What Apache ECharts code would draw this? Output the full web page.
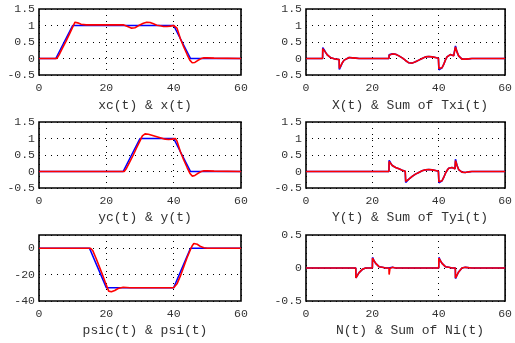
<!DOCTYPE html>
<html><head><meta charset="utf-8">
<script src="https://cdn.jsdelivr.net/npm/echarts@6/dist/echarts.min.js"></script>
<style>html,body{margin:0;padding:0;background:#fff}#c{width:515px;height:343px}</style>
</head><body><div id="c"></div>
<script>
// ---- Panel titles ----
const titles = ["xc(t) & x(t)", "X(t) & Sum of Txi(t)", "yc(t) & y(t)", "Y(t) & Sum of Tyi(t)", "psic(t) & psi(t)", "N(t) & Sum of Ni(t)"];
const xTicks = [0, 20, 40, 60];

// ---- Panel 1: xc (blue), x (red) ----
const xcT = [0, 5, 10, 40, 45, 60];
const xcV = [0, 0, 1, 1, 0, 0];
const xT = [0, 5.3, 6, 7, 8, 9, 10, 10.7, 11.5, 12.5, 14, 20, 25, 26.5, 27.5, 28.5, 29.5, 31, 32, 33, 34, 35, 36, 37, 38, 39, 40, 40.5, 41, 42, 43, 44, 44.8, 45.5, 46.3, 47, 48, 49, 50, 52, 60];
const xV = [0, 0, 0.12, 0.32, 0.52, 0.73, 0.95, 1.1, 1.08, 1.04, 1.02, 1.02, 1.02, 0.96, 0.92, 0.93, 0.99, 1.07, 1.1, 1.09, 1.05, 1.01, 0.99, 0.97, 0.97, 0.98, 1.0, 1.0, 0.92, 0.6, 0.35, 0.12, -0.05, -0.13, -0.12, -0.07, -0.01, 0.02, 0.02, 0.01, 0];

// ---- Panel 2: X(t) (blue), Sum of Txi (red) ----
const fxT = [0, 5, 5.05, 5.5, 6, 6.5, 7, 7.5, 8, 9, 10, 10.05, 10.5, 11, 11.5, 12, 13, 14, 15, 16, 25, 25.05, 25.3, 25.5, 26, 26.5, 27, 28, 29, 30, 31, 31.5, 32, 33, 34, 35, 36, 37, 38, 39, 39.9, 40, 40.05, 40.5, 41, 41.5, 42, 42.5, 43, 43.5, 44, 44.5, 44.9, 45, 45.05, 45.5, 46, 46.5, 47, 48, 49, 50, 60];
const XV = [0, 0, 0.33, 0.26, 0.17, 0.1, 0.05, 0.02, 0, -0.02, -0.03, -0.33, -0.23, -0.12, -0.05, 0, 0.03, 0.02, 0.01, 0, 0, 0.11, 0.05, 0.1, 0.14, 0.15, 0.13, 0.08, 0.02, -0.06, -0.13, -0.15, -0.14, -0.1, -0.05, 0, 0.05, 0.06, 0.05, 0.03, 0.01, 0, -0.34, -0.33, -0.28, -0.18, -0.05, 0.05, 0.1, 0.12, 0.11, 0.08, 0.07, 0.07, 0.38, 0.2, 0.08, 0.02, -0.02, -0.02, -0.01, 0, 0];
const TxV = [0, 0, 0.3, 0.25, 0.17, 0.1, 0.05, 0.02, 0, -0.02, -0.03, -0.3, -0.22, -0.12, -0.05, 0, 0.03, 0.02, 0.01, 0, 0, 0.1, 0.05, 0.1, 0.14, 0.15, 0.13, 0.08, 0.02, -0.06, -0.13, -0.15, -0.14, -0.1, -0.05, 0, 0.05, 0.06, 0.05, 0.03, 0.01, 0, -0.3, -0.32, -0.28, -0.18, -0.05, 0.05, 0.1, 0.12, 0.11, 0.08, 0.07, 0.07, 0.35, 0.2, 0.08, 0.02, -0.02, -0.02, -0.01, 0, 0];

// ---- Panel 3: yc (blue), y (red) ----
const ycT = [0, 25, 30, 40, 45, 60];
const ycV = [0, 0, 1, 1, 0, 0];
const yT = [0, 25.3, 26, 27, 28, 29, 30, 30.7, 31.5, 32.5, 33.5, 34.5, 35.5, 36.5, 37.5, 38.5, 39.5, 40.5, 41, 42, 43, 44, 44.8, 45.5, 46.3, 47, 48, 49, 50, 52, 60];
const yV = [0, 0, 0.1, 0.3, 0.5, 0.72, 0.93, 1.08, 1.14, 1.13, 1.1, 1.07, 1.04, 1.01, 0.98, 0.97, 0.98, 1.0, 0.92, 0.6, 0.35, 0.12, -0.05, -0.14, -0.12, -0.07, -0.01, 0.02, 0.02, 0.01, 0];

// ---- Panel 4: Y(t) (blue), Sum of Tyi (red) ----
const fyT = [0, 25, 25.05, 25.5, 26, 26.5, 27, 28, 29, 29.9, 30, 30.05, 30.5, 31, 32, 33, 34, 35, 36, 37, 38, 39, 39.9, 40, 40.05, 40.5, 41, 41.5, 42, 42.5, 43, 43.5, 44, 44.5, 44.9, 45, 45.05, 45.5, 46, 46.5, 47, 48, 49, 50, 60];
const YV = [0, 0, 0.34, 0.26, 0.18, 0.14, 0.12, 0.08, 0.04, 0.01, 0, -0.33, -0.28, -0.23, -0.15, -0.08, -0.03, 0.02, 0.05, 0.06, 0.05, 0.03, 0.01, 0, -0.34, -0.33, -0.28, -0.18, -0.06, 0.03, 0.1, 0.13, 0.12, 0.09, 0.08, 0.08, 0.37, 0.19, 0.06, 0, -0.02, -0.03, -0.01, 0, 0];
const TyV = [0, 0, 0.3, 0.25, 0.18, 0.14, 0.12, 0.08, 0.04, 0.01, 0, -0.3, -0.27, -0.23, -0.15, -0.08, -0.03, 0.02, 0.05, 0.06, 0.05, 0.03, 0.01, 0, -0.31, -0.32, -0.28, -0.18, -0.06, 0.03, 0.1, 0.13, 0.12, 0.09, 0.08, 0.08, 0.33, 0.18, 0.06, 0, -0.02, -0.03, -0.01, 0, 0];

// ---- Panel 5: psic (blue), psi (red) ----
const psicT = [0, 15, 20, 40, 45, 60];
const psicV = [0, 0, -30, -30, 0, 0];
const psiT = [0, 15.3, 16, 17, 18, 19, 20, 20.7, 21.5, 22.5, 23.5, 25, 27, 30, 35, 40, 40.5, 41, 42, 43, 44, 45, 45.5, 46, 47, 48, 49, 50, 52, 60];
const psiV = [0, 0, -2, -8, -14.5, -21, -28, -32.5, -33, -32, -30.5, -29.6, -30, -30, -30, -30, -29.5, -27, -21, -14, -7, -1, 1.8, 3.5, 3, 1.2, 0.3, 0, 0, 0];

// ---- Panel 6: N(t) (blue), Sum of Ni (red) ----
const nT = [0, 15, 15.05, 15.5, 16, 16.5, 17, 17.5, 18, 19, 20, 20.05, 20.5, 21, 21.5, 22, 23, 24, 25, 25.05, 25.3, 25.6, 26, 27, 30, 30.05, 30.2, 31, 40, 40.05, 40.5, 41, 41.5, 42, 43, 44, 45, 45.05, 45.5, 46, 46.5, 47, 47.5, 48, 50, 60];
const NV = [0, 0, -0.15, -0.12, -0.07, -0.04, -0.02, -0.01, 0, 0, 0, 0.16, 0.11, 0.07, 0.04, 0.02, 0.01, 0, 0, 0, 0, 0.02, 0.01, 0, 0, 0, 0, 0, 0, 0.16, 0.11, 0.07, 0.04, 0.02, 0.01, 0, 0, -0.16, -0.11, -0.06, -0.03, 0, 0.01, 0.01, 0, 0];
const NiV = [0, 0, -0.15, -0.12, -0.07, -0.04, -0.02, -0.01, 0, 0, 0, 0.15, 0.11, 0.07, 0.04, 0.02, 0.01, 0, 0, -0.1, -0.01, 0.02, 0.01, 0, 0, -0.02, 0, 0, 0, 0.15, 0.11, 0.07, 0.04, 0.02, 0.01, 0, 0, -0.15, -0.11, -0.06, -0.03, 0, 0.01, 0.01, 0, 0];

// ---- Y ranges ----
const yRanges = [[-0.5, 1.5, 0.5], [-0.5, 1.5, 0.5], [-0.5, 1.5, 0.5], [-0.5, 1.5, 0.5], [-40, 10, 20], [-0.5, 0.5, 0.5]];

function pairs(t, v) { return t.map((x, i) => [x, v[i]]); }

const panels = [
  [pairs(xcT, xcV), pairs(xT, xV)],
  [pairs(fxT, XV), pairs(fxT, TxV)],
  [pairs(ycT, ycV), pairs(yT, yV)],
  [pairs(fyT, YV), pairs(fyT, TyV)],
  [pairs(psicT, psicV), pairs(psiT, psiV)],
  [pairs(nT, NV), pairs(nT, NiV)]
];

const colLeft = [39, 306], colW = [202, 201];
const rowTop = [9, 122, 235], rowH = 66;
const titleY = [105.5, 218, 331];
const titleX = [145, 410];
const FONT = '"Liberation Mono", "DejaVu Sans Mono", monospace';

const grid = [], xAxis = [], yAxis = [], series = [], graphic = [];
for (let i = 0; i < 6; i++) {
  const c = i % 2, r = Math.floor(i / 2);
  grid.push({ left: colLeft[c], top: rowTop[r], width: colW[c], height: rowH, show: true, borderColor: '#000', borderWidth: 1.6, backgroundColor: 'transparent' });
  xAxis.push({
    gridIndex: i, type: 'value', min: 0, max: 60, interval: 20,
    axisLine: { show: false }, axisTick: { show: false },
    axisLabel: { margin: 7, fontFamily: FONT, fontSize: 11.5, color: '#333' },
    splitLine: { show: true, lineStyle: { color: '#000', width: 1, type: [1, 5] } }
  });
  const yr = yRanges[i];
  yAxis.push({
    gridIndex: i, type: 'value', min: yr[0], max: yr[1], interval: yr[2],
    axisLine: { show: false }, axisTick: { show: false },
    axisLabel: { margin: 4, fontFamily: FONT, fontSize: 11.5, color: '#333', showMaxLabel: i !== 4,
      formatter: v => String(v) },
    splitLine: { show: true, lineStyle: { color: '#000', width: 1, type: [1, 5] } }
  });
  series.push({ type: 'line', xAxisIndex: i, yAxisIndex: i, data: panels[i][0], showSymbol: false, symbol: 'none', lineStyle: { color: '#0000ff', width: 1.6 }, z: 2 });
  series.push({ type: 'line', xAxisIndex: i, yAxisIndex: i, data: panels[i][1], showSymbol: false, symbol: 'none', lineStyle: { color: '#ff0000', width: 1.6 }, z: 3 });
  graphic.push({ type: 'text', x: titleX[c], y: titleY[r], style: { text: titles[i], fill: '#333', font: '13px ' + FONT, textAlign: 'center', textVerticalAlign: 'middle' } });
}

const chart = echarts.init(document.getElementById('c'), null, { renderer: 'canvas' });
chart.setOption({ animation: false, grid, xAxis, yAxis, series, graphic });
</script></body></html>
